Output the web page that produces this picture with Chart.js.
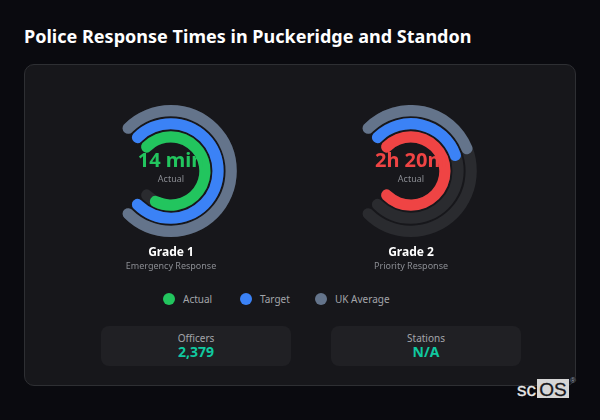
<!DOCTYPE html>
<html><head><meta charset="utf-8">
<script src="https://cdn.jsdelivr.net/npm/chart.js@4"></script>
<style>
*{box-sizing:border-box;margin:0;padding:0}
html,body{width:600px;height:420px;overflow:hidden;background:#0a0a0f;font-family:"Noto Sans",sans-serif;color:#fff}
#title{position:absolute;left:24px;top:24px;font-size:18px;font-weight:700;line-height:24px;white-space:nowrap;letter-spacing:.02px}
#card{position:absolute;left:24px;top:64px;width:552px;height:322px;background:#17171b;border:1px solid #2e2f33;border-radius:10px}
.g{position:absolute;top:105px;width:200px;height:132px}
.g canvas{position:absolute!important;left:0;top:0}
.val{position:absolute;top:146px;width:200px;text-align:center;font-size:20px;font-weight:700;line-height:28px;white-space:nowrap}
.act{position:absolute;top:172px;width:200px;text-align:center;font-size:9px;line-height:14px;color:#8a8c92}
.nm{position:absolute;top:243px;width:200px;text-align:center;font-size:12px;font-weight:700;line-height:17px}
.sub{position:absolute;top:259px;width:200px;text-align:center;font-size:9px;line-height:14px;color:#8a8c92}
.leg{position:absolute;top:292px;height:14px;font-size:10px;line-height:14px;color:#a3a5aa;white-space:nowrap}
.dot{position:absolute;top:293px;width:12px;height:12px;border-radius:50%}
.st{position:absolute;top:326px;width:190px;height:40px;background:#202024;border-radius:8px;text-align:center}
.st .a{font-size:10px;line-height:14px;color:#a3a5aa;padding-top:5px}
.st .b{font-size:14px;font-weight:700;line-height:16px;color:#10c9a0;margin-top:-1px}
#wm{position:absolute;left:517px;top:379px;height:19px;font:400 19px "Liberation Sans",sans-serif;line-height:21px;color:#e6e6e6;white-space:nowrap;-webkit-text-stroke:.3px #e6e6e6}
#wm b{position:absolute;left:20px;top:0;width:32px;height:19px;background:#d6d6d6;color:#17171b;font-weight:400;text-align:center;-webkit-text-stroke:.3px #17171b}
#wm i{position:absolute;left:53px;top:-3px;font:400 8px/9px "Liberation Sans";color:#8a97a8;-webkit-text-stroke:0}
</style></head><body>
<div id="title">Police Response Times in Puckeridge and Standon</div>
<div id="card"></div>
<div class="g" id="g0"></div><div class="g" id="g1"></div>
<div id="texts"></div>
<div class="dot" style="left:163px;background:#22c55e"></div><div class="leg" style="left:183px">Actual</div>
<div class="dot" style="left:240px;background:#3b82f6"></div><div class="leg" style="left:260px">Target</div>
<div class="dot" style="left:315px;background:#64748b"></div><div class="leg" style="left:335px">UK Average</div>
<div class="st" style="left:101px"><div class="a">Officers</div><div class="b">2,379</div></div>
<div class="st" style="left:331px"><div class="a">Stations</div><div class="b">N/A</div></div>
<div id="wm">sc<b>OS</b><i>®</i></div>
<script>
const grades = ["Grade 1", "Grade 2"];
const subtitles = ["Emergency Response", "Priority Response"];
const centerText = ["14 min", "2h 20m"];
const centerLabel = "Actual";
const seriesNames = ["UK Average", "Target", "Actual"];
const ukAverage = [100, 42];
const target = [100, 42.9];
const actual = [93.3, 100];
const actualColors = ["#22c55e", "#ef4444"];
const targetColor = "#3b82f6";
const ukColor = "#64748b";
const trackColor = "#2a2b2f";
const centers = [171, 411];
const capDegrees = [5.2, 6.6, 9.3];   // how far each ring's round end reaches past its start and end

function makeCanvas(host){
  const c = document.createElement("canvas");
  c.width = 200; c.height = 132;
  c.style.width = "200px"; c.style.height = "132px";
  host.appendChild(c);
  return c;
}
const base = () => ({
  responsive:false, animation:false, rotation:-45, circumference:270, cutout:"43.2%",
  plugins:{legend:{display:false},tooltip:{enabled:false}}
});
// thin invisible rings keep the gaps between the three gauges
const gap = () => ({data:[100],backgroundColor:["rgba(0,0,0,0)"],borderWidth:0,weight:0.17});
const sweep = k => ({rotation:-45-capDegrees[k],circumference:270+2*capDegrees[k]});
const track = k => ({...sweep(k),data:[100],backgroundColor:[trackColor],borderWidth:0,borderRadius:6,weight:1});
const ring = (v,col,k) => {
  const total = 270+2*capDegrees[k], span = v*2.7+2*capDegrees[k];
  return {...sweep(k),data:[span,total-span],backgroundColor:[col,"rgba(0,0,0,0)"],borderWidth:0,borderRadius:6,weight:1};
};
grades.forEach((g,i)=>{
  const host = document.getElementById("g"+i);
  host.style.left = (centers[i]-100+6.2)+"px";
  new Chart(makeCanvas(host),{type:"doughnut",data:{labels:["Track"],datasets:[track(0),gap(),track(1),gap(),track(2)]},options:base()});
  new Chart(makeCanvas(host),{type:"doughnut",data:{labels:["Value","Rest"],datasets:[ring(ukAverage[i],ukColor,0),gap(),ring(target[i],targetColor,1),gap(),ring(actual[i],actualColors[i],2)]},options:base()});
  const t = document.getElementById("texts"), L = centers[i]-100;
  t.insertAdjacentHTML("beforeend",
   `<div class="val" style="left:${L}px;color:${actualColors[i]}">${centerText[i]}</div>
    <div class="act" style="left:${L}px">${centerLabel}</div>
    <div class="nm" style="left:${L}px">${g}</div>
    <div class="sub" style="left:${L}px">${subtitles[i]}</div>`);
});
</script>
</body></html>
